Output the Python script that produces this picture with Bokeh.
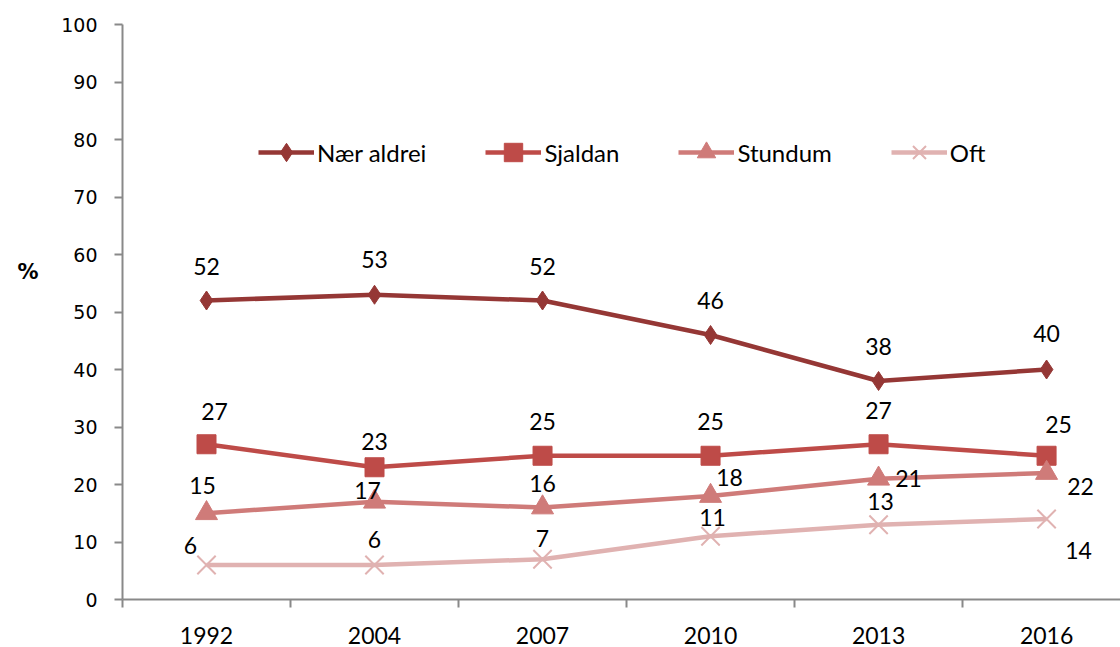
from bokeh.plotting import figure
from bokeh.models import (FixedTicker, Legend, LegendItem, LinearAxis, ColumnDataSource, Range1d)
from bokeh.core.properties import value
from bokeh.embed import file_html
from bokeh.resources import INLINE

years = ["1992", "2004", "2007", "2010", "2013", "2016"]
naer_aldrei = [52, 53, 52, 46, 38, 40]
sjaldan = [27, 23, 25, 25, 27, 25]
stundum = [15, 17, 16, 18, 21, 22]
oft = [6, 6, 7, 11, 13, 14]
series_names = ["Nær aldrei", "Sjaldan", "Stundum", "Oft"]
y_ticks = list(range(0, 101, 10))
y_title = "%"

colors = ["#953735", "#BE4B48", "#CF7B79", "#E0B2B1"]
markers = ["diamond", "square", "triangle", "x"]
marker_sizes = [19, 19, 22, 26]
marker_lw = [1, 1, 1, 2]
# label offsets in pixels (dx, dy), screen y downward
label_dx = [[0, 0, 0, 0, 0, 0], [8, 0, 0, 0, 0, 12], [-4, -7, 0, 19, 30, 34], [-16, 0, 0, 2, 2, 32]]
label_dy = [[-34, -35, -34, -35, -35, -36], [-33, -26, -34, -34, -34, -31], [-28, -11, -24, -19, 0, 13], [-20, -26, -21, -19, -23, 31]]

FONT = "Lato"
xs = list(range(len(years)))

p = figure(width=1120, height=647, output_backend="svg", toolbar_location=None,
           x_range=Range1d(-0.5, 5.44), y_range=Range1d(0, 100),
           min_border_left=122, min_border_right=0, min_border_top=24, min_border_bottom=48)
p.outline_line_color = None
p.xgrid.visible = False
p.ygrid.visible = False
p.background_fill_color = "white"

# axes
ax = p.xaxis[0]
ax.ticker = FixedTicker(ticks=xs, minor_ticks=[i - 0.5 for i in range(len(years) + 1)])
ax.major_label_overrides = {i: y for i, y in enumerate(years)}
ax.major_tick_line_color = None
ax.major_tick_out = 0
ax.minor_tick_out = 8
ax.minor_tick_in = 0
ax.minor_tick_line_color = "#898989"
ax.minor_tick_line_width = 2
ax.axis_line_color = "#898989"
ax.axis_line_width = 2
ax.major_label_text_font = FONT
ax.major_label_text_font_size = "23px"
ax.major_label_text_color = "black"
ax.major_label_standoff = 19

ay = p.yaxis[0]
ay.ticker = FixedTicker(ticks=y_ticks)
ay.minor_tick_line_color = None
ay.major_tick_out = 8
ay.major_tick_in = 0
ay.major_tick_line_color = "#898989"
ay.major_tick_line_width = 2
ay.axis_line_color = "#898989"
ay.axis_line_width = 2
ay.major_label_text_font = "DejaVu Sans"
ay.major_label_text_font_size = "19px"
ay.major_label_text_color = "black"
ay.major_label_standoff = 17

# y-title "%" placed as a single label on an outer, invisible axis
title_axis = LinearAxis(ticker=FixedTicker(ticks=[57]), major_label_overrides={57: y_title},
                        axis_line_color=None, major_tick_line_color=None,
                        minor_tick_line_color=None, major_tick_out=0, major_tick_in=0,
                        major_label_standoff=20, major_label_text_font="DejaVu Sans",
                        major_label_text_font_size="21px", major_label_text_font_style="bold",
                        major_label_text_color="black")
p.add_layout(title_axis, "left")

all_series = [naer_aldrei, sjaldan, stundum, oft]
items = []
for i, vals in enumerate(all_series):
    src = ColumnDataSource(dict(x=xs, y=vals, t=[str(v) for v in vals],
                                dx=label_dx[i], dy=label_dy[i]))
    ln = p.line("x", "y", source=src, line_color=colors[i], line_width=4.5)
    sc = p.scatter("x", "y", source=src, marker=markers[i], size=marker_sizes[i],
                   fill_color=colors[i], line_color=colors[i], line_width=marker_lw[i])
    p.text("x", "y", text="t", source=src, x_offset="dx", y_offset="dy",
           text_font=value(FONT), text_font_size="23px", text_color="black",
           text_align="center", text_baseline="middle")
    items.append(LegendItem(label=series_names[i], renderers=[ln, sc]))

legend = Legend(items=items, orientation="horizontal", location=(136, 424),
                border_line_alpha=0, background_fill_alpha=0, padding=0, margin=0,
                spacing=59, label_standoff=3, glyph_width=56, glyph_height=46,
                label_height=46, label_text_font=FONT, label_text_font_size="24px",
                label_text_color="black")
p.add_layout(legend, "center")

open("out.html", "w").write(file_html(p, INLINE))
